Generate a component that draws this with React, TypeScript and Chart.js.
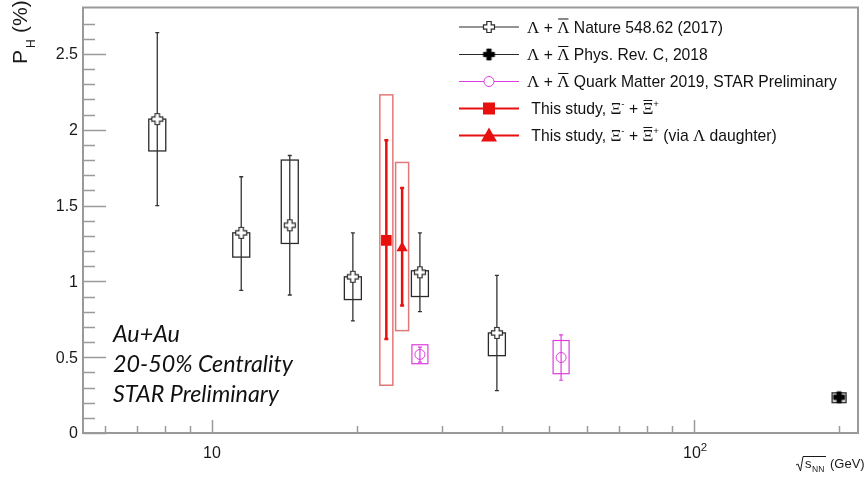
import React, { useEffect, useRef } from "react";
import { Chart, registerables } from "chart.js";

Chart.register(...registerables);

// ---------------- data ----------------
const natureEnergy = [7.7, 11.5, 14.5, 19.6, 27, 39];
const natureValue = [2.07, 1.32, 1.37, 1.03, 1.06, 0.66];
const natureStatLow = [1.5, 0.94, 0.91, 0.74, 0.8, 0.28];
const natureStatHigh = [2.64, 1.69, 1.83, 1.32, 1.32, 1.04];
const natureSysLow = [1.86, 1.16, 1.25, 0.88, 0.9, 0.51];
const natureSysHigh = [2.07, 1.32, 1.8, 1.03, 1.07, 0.66];

const prcEnergy = [200];
const prcValue = [0.236];
const prcStatLow = [0.22];
const prcStatHigh = [0.25];
const prcSysLow = [0.2];
const prcSysHigh = [0.265];

const qmEnergy = [27, 53];
const qmValue = [0.518, 0.498];
const qmStatLow = [0.468, 0.348];
const qmStatHigh = [0.566, 0.647];
const qmSysLow = [0.457, 0.391];
const qmSysHigh = [0.582, 0.61];

const xiEnergy = [23];
const xiValue = [1.27];
const xiStatLow = [0.62];
const xiStatHigh = [1.93];
const xiSysLow = [0.315];
const xiSysHigh = [2.23];

const xiLambdaEnergy = [24.8];
const xiLambdaValue = [1.22];
const xiLambdaStatLow = [0.84];
const xiLambdaStatHigh = [1.615];
const xiLambdaSysLow = [0.675];
const xiLambdaSysHigh = [1.784];

const legendLabels = [
  "Λ + #bar{Λ} Nature 548.62 (2017)",
  "Λ + #bar{Λ} Phys. Rev. C, 2018",
  "Λ + #bar{Λ} Quark Matter 2019, STAR Preliminary",
  " This study, Ξ^{-} + #bar{Ξ}^{+}",
  " This study, Ξ^{-} + #bar{Ξ}^{+} (via Λ daughter)",
];

const annotationLines = ["Au+Au", "20-50% Centrality", "STAR Preliminary"];

const yMajorTicks = [0, 0.5, 1, 1.5, 2, 2.5];
const yTickLabels = ["0", "0.5", "1", "1.5", "2", "2.5"];
const xMajorTicks = [10, 100];
const xTickLabels = ["10", "10^{2}"];
const xMinorTicks = [6, 7, 8, 9, 20, 30, 40, 50, 60, 70, 80, 90, 200];

const xMin = 5.4;
const xMax = 218.9;
const yMin = 0;
const yMax = 2.806;

// ---------------- styles ----------------
const BLACK = "#2a2a2a";
const MAGENTA = "#dd3ddd";
const RED = "#e80f0f";
const RED_BOX = "#e27878";
const FRAME = "#9a9a9a";
const SANS = "'Liberation Sans', Arial, Helvetica, sans-serif";
const SERIF = "'Liberation Serif', 'Times New Roman', serif";

function makeCross(size: number, fill: string, stroke: string, lw: number) {
  const c = document.createElement("canvas");
  const s = Math.ceil(size + 2 * lw + 2);
  c.width = s;
  c.height = s;
  const ctx = c.getContext("2d")!;
  const cx = s / 2;
  const cy = s / 2;
  const h = size / 2;
  const a = size / 5;
  ctx.beginPath();
  ctx.moveTo(cx - a, cy - h);
  ctx.lineTo(cx + a, cy - h);
  ctx.lineTo(cx + a, cy - a);
  ctx.lineTo(cx + h, cy - a);
  ctx.lineTo(cx + h, cy + a);
  ctx.lineTo(cx + a, cy + a);
  ctx.lineTo(cx + a, cy + h);
  ctx.lineTo(cx - a, cy + h);
  ctx.lineTo(cx - a, cy + a);
  ctx.lineTo(cx - h, cy + a);
  ctx.lineTo(cx - h, cy - a);
  ctx.lineTo(cx - a, cy - a);
  ctx.closePath();
  ctx.fillStyle = fill;
  ctx.fill();
  ctx.strokeStyle = stroke;
  ctx.lineWidth = lw;
  ctx.stroke();
  return c;
}

// --------- mini TLatex-like rich text ---------
type Seg = { text: string; bar: boolean; script: number };
function parseRich(s: string): Seg[] {
  const out: Seg[] = [];
  let i = 0;
  let buf = "";
  const flush = () => {
    if (buf) out.push({ text: buf, bar: false, script: 0 });
    buf = "";
  };
  const readGroup = (start: number) => {
    let depth = 1;
    let j = start;
    while (j < s.length && depth > 0) {
      if (s[j] === "{") depth++;
      else if (s[j] === "}") depth--;
      j++;
    }
    return { content: s.slice(start, j - 1), end: j };
  };
  while (i < s.length) {
    if (s.startsWith("#bar{", i)) {
      flush();
      const g = readGroup(i + 5);
      out.push({ text: g.content, bar: true, script: 0 });
      i = g.end;
    } else if (s.startsWith("^{", i) || s.startsWith("_{", i)) {
      flush();
      const g = readGroup(i + 2);
      out.push({ text: g.content, bar: false, script: s[i] === "^" ? 1 : -1 });
      i = g.end;
    } else {
      buf += s[i];
      i++;
    }
  }
  flush();
  return out;
}

const isGreek = (ch: string) => /[\u0370-\u03FF]/.test(ch);

function drawRich(
  ctx: CanvasRenderingContext2D,
  str: string,
  x: number,
  y: number,
  size: number,
  scriptScale = 0.62
) {
  const segs = parseRich(str);
  let cx = x;
  for (const seg of segs) {
    const fs = seg.script !== 0 ? size * scriptScale : size;
    const by = seg.script === 1 ? y - size * 0.42 : seg.script === -1 ? y + size * 0.25 : y;
    const start = cx;
    let run = "";
    let runGreek = false;
    const drawRun = () => {
      if (!run) return;
      ctx.font = runGreek ? `${fs * 1.08}px ${SERIF}` : `${fs}px ${SANS}`;
      ctx.fillText(run, cx, by);
      cx += ctx.measureText(run).width;
      run = "";
    };
    for (const ch of seg.text) {
      const g = isGreek(ch);
      if (run && g !== runGreek) drawRun();
      runGreek = g;
      run += ch;
    }
    drawRun();
    if (seg.bar) {
      ctx.save();
      ctx.lineWidth = 1;
      ctx.strokeStyle = ctx.fillStyle as string;
      ctx.beginPath();
      ctx.moveTo(start + 1, by - size * 0.86);
      ctx.lineTo(cx - 1, by - size * 0.86);
      ctx.stroke();
      ctx.restore();
    }
  }
  return cx;
}

// --------------- plugin ---------------
const errorPlugin = {
  id: "errorsAndBoxes",
  beforeDatasetsDraw(chart: any) {
    const { ctx, chartArea } = chart;
    const xs = chart.scales.x;
    const ys = chart.scales.y;
    ctx.save();
    ctx.beginPath();
    ctx.rect(chartArea.left, chartArea.top, chartArea.right - chartArea.left, chartArea.bottom - chartArea.top);
    ctx.clip();
    chart.data.datasets.forEach((ds: any) => {
      ds.data.forEach((p: any, i: number) => {
        const px = xs.getPixelForValue(p.x);
        const bTop = ys.getPixelForValue(ds.sysHigh[i]);
        const bBot = ys.getPixelForValue(ds.sysLow[i]);
        ctx.lineWidth = ds.boxLineWidth;
        ctx.strokeStyle = ds.boxColor;
        if (ds.boxFill) {
          ctx.fillStyle = ds.boxFill;
          ctx.fillRect(px - ds.boxWidth / 2, bTop, ds.boxWidth, bBot - bTop);
        }
        ctx.strokeRect(px - ds.boxWidth / 2, bTop, ds.boxWidth, bBot - bTop);
        const eTop = ys.getPixelForValue(ds.statHigh[i]);
        const eBot = ys.getPixelForValue(ds.statLow[i]);
        ctx.lineWidth = ds.errLineWidth;
        ctx.strokeStyle = ds.errColor;
        ctx.beginPath();
        ctx.moveTo(px, eTop);
        ctx.lineTo(px, eBot);
        ctx.moveTo(px - 2, eTop);
        ctx.lineTo(px + 2, eTop);
        ctx.moveTo(px - 2, eBot);
        ctx.lineTo(px + 2, eBot);
        ctx.stroke();
      });
    });
    ctx.restore();
  },
  afterDraw(chart: any) {
    const { ctx, chartArea } = chart;
    const xs = chart.scales.x;
    const ys = chart.scales.y;
    const L = chartArea.left;
    const R = chartArea.right;
    const T = chartArea.top;
    const B = chartArea.bottom;
    ctx.save();
    ctx.strokeStyle = FRAME;
    ctx.lineWidth = 1.5;
    ctx.beginPath();
    for (let k = 1; k <= 27; k++) {
      if (k % 5 === 0) continue;
      const py = Math.round(ys.getPixelForValue(k / 10)) + 0.5;
      ctx.moveTo(L, py);
      ctx.lineTo(L + 12, py);
    }
    yMajorTicks.forEach((v) => {
      const py = Math.round(ys.getPixelForValue(v)) + 0.5;
      ctx.moveTo(L, py);
      ctx.lineTo(L + 23, py);
    });
    xMinorTicks.forEach((v) => {
      const px = Math.round(xs.getPixelForValue(v)) + 0.5;
      ctx.moveTo(px, B);
      ctx.lineTo(px, B - 7);
    });
    xMajorTicks.forEach((v) => {
      const px = Math.round(xs.getPixelForValue(v)) + 0.5;
      ctx.moveTo(px, B);
      ctx.lineTo(px, B - 13);
    });
    ctx.stroke();
    ctx.lineWidth = 2;
    ctx.strokeRect(L, T, R - L, B - T);

    // tick labels
    ctx.fillStyle = "#1a1a1a";
    ctx.font = `16px ${SANS}`;
    ctx.textAlign = "right";
    ctx.textBaseline = "middle";
    yMajorTicks.forEach((v, i) => {
      ctx.fillText(yTickLabels[i], L - 5, ys.getPixelForValue(v) + 1);
    });
    ctx.textAlign = "left";
    ctx.textBaseline = "alphabetic";
    xMajorTicks.forEach((v, i) => {
      const px = xs.getPixelForValue(v);
      ctx.font = `16px ${SANS}`;
      const w10 = ctx.measureText("10").width;
      drawRich(ctx, xTickLabels[i], px - (i === 0 ? w10 / 2 : 11), 458, 16, 0.72);
    });

    // y title
    ctx.save();
    ctx.translate(27, 64);
    ctx.rotate(-Math.PI / 2);
    ctx.fillStyle = "#1a1a1a";
    ctx.font = `21px ${SANS}`;
    ctx.fillText("P", 0, 0);
    ctx.font = `12px ${SANS}`;
    ctx.fillText("H", 16, 8);
    ctx.font = `21px ${SANS}`;
    ctx.fillText("(%)", 31, 0);
    ctx.restore();

    // x title
    ctx.fillStyle = "#1a1a1a";
    ctx.strokeStyle = "#1a1a1a";
    ctx.lineWidth = 1;
    ctx.beginPath();
    ctx.moveTo(796, 465);
    ctx.lineTo(798, 464);
    ctx.lineTo(800.5, 471);
    ctx.lineTo(803, 456.5);
    ctx.lineTo(826, 456.5);
    ctx.stroke();
    ctx.font = `13px ${SANS}`;
    ctx.fillText("s", 805, 468);
    ctx.font = `8.5px ${SANS}`;
    ctx.fillText("NN", 812, 472);
    ctx.font = `13px ${SANS}`;
    ctx.fillText("(GeV)", 830, 468);

    // legend
    const rows = [27, 54.5, 81.5, 108.5, 135.5];
    const lx0 = 459;
    const lx1 = 519;
    const mx = 489;
    const styles = chart.data.datasets;
    rows.forEach((ry, i) => {
      const ds = styles[i];
      ctx.strokeStyle = ds.legendLineColor;
      ctx.lineWidth = ds.legendLineWidth;
      ctx.beginPath();
      ctx.moveTo(lx0, ry);
      ctx.lineTo(lx1, ry);
      ctx.stroke();
      const ps = ds.pointStyle;
      if (ps instanceof HTMLCanvasElement) {
        ctx.drawImage(ps, mx - ps.width / 2, ry - ps.height / 2);
      } else if (ps === "circle") {
        ctx.fillStyle = "#fff";
        ctx.strokeStyle = ds.pointBorderColor;
        ctx.lineWidth = 1;
        ctx.beginPath();
        ctx.arc(mx, ry, 5, 0, Math.PI * 2);
        ctx.fill();
        ctx.stroke();
      } else if (ps === "rect") {
        ctx.fillStyle = RED;
        ctx.fillRect(mx - 6, ry - 6, 12, 12);
      } else if (ps === "triangle") {
        ctx.fillStyle = RED;
        ctx.beginPath();
        ctx.moveTo(mx, ry - 8);
        ctx.lineTo(mx + 8, ry + 6);
        ctx.lineTo(mx - 8, ry + 6);
        ctx.closePath();
        ctx.fill();
      }
      ctx.fillStyle = "#111";
      drawRich(ctx, legendLabels[i], 527, ry + 5.5, 15.7);
    });

    // annotation
    ctx.fillStyle = "#111";
    const fam = "Lato, 'Open Sans', sans-serif";
    ctx.font = `italic 100px ${fam}`;
    const wRef = ctx.measureText(annotationLines[1]).width;
    const fsz = (100 * 180) / wRef;
    ctx.font = `italic ${fsz}px ${fam}`;
    annotationLines.forEach((t, i) => {
      ctx.fillText(t, 113, 342 + i * 30);
    });
    ctx.restore();
  },
};

function makeDataset(
  label: string,
  xs: number[],
  ys: number[],
  statLow: number[],
  statHigh: number[],
  sysLow: number[],
  sysHigh: number[],
  extra: any
) {
  return {
    label,
    data: xs.map((x, i) => ({ x, y: ys[i] })),
    statLow,
    statHigh,
    sysLow,
    sysHigh,
    showLine: false,
    ...extra,
  };
}

export default function App() {
  const ref = useRef<HTMLCanvasElement>(null);
  useEffect(() => {
    const openCross = makeCross(11, "#ffffff", BLACK, 1.2);
    const fullCross = makeCross(11, "#000000", "#000000", 0.8);
    const datasets = [
      makeDataset(legendLabels[0], natureEnergy, natureValue, natureStatLow, natureStatHigh, natureSysLow, natureSysHigh, {
        pointStyle: openCross,
        pointBorderColor: BLACK,
        boxColor: BLACK,
        boxWidth: 17,
        boxLineWidth: 1.3,
        errColor: "#333",
        errLineWidth: 1.3,
        legendLineColor: BLACK,
        legendLineWidth: 1.2,
      }),
      makeDataset(legendLabels[1], prcEnergy, prcValue, prcStatLow, prcStatHigh, prcSysLow, prcSysHigh, {
        pointStyle: fullCross,
        pointBorderColor: "#000",
        boxColor: "#333",
        boxFill: "rgba(0,0,0,0.18)",
        boxWidth: 14,
        boxLineWidth: 1.3,
        errColor: "#000",
        errLineWidth: 1.3,
        legendLineColor: BLACK,
        legendLineWidth: 1.2,
      }),
      makeDataset(legendLabels[2], qmEnergy, qmValue, qmStatLow, qmStatHigh, qmSysLow, qmSysHigh, {
        pointStyle: "circle",
        pointRadius: 5,
        pointBorderWidth: 1,
        pointBorderColor: MAGENTA,
        pointBackgroundColor: "rgba(255,255,255,0)",
        boxColor: MAGENTA,
        boxWidth: 16,
        boxLineWidth: 1.2,
        errColor: MAGENTA,
        errLineWidth: 1.2,
        legendLineColor: MAGENTA,
        legendLineWidth: 1.2,
      }),
      makeDataset(legendLabels[3], xiEnergy, xiValue, xiStatLow, xiStatHigh, xiSysLow, xiSysHigh, {
        pointStyle: "rect",
        pointRadius: 7.5,
        pointBorderWidth: 0,
        pointBorderColor: RED,
        pointBackgroundColor: RED,
        boxColor: RED_BOX,
        boxWidth: 13,
        boxLineWidth: 1.5,
        errColor: RED,
        errLineWidth: 2.5,
        legendLineColor: RED,
        legendLineWidth: 2,
      }),
      makeDataset(legendLabels[4], xiLambdaEnergy, xiLambdaValue, xiLambdaStatLow, xiLambdaStatHigh, xiLambdaSysLow, xiLambdaSysHigh, {
        pointStyle: "triangle",
        pointRadius: 6.5,
        pointBorderWidth: 0,
        pointBorderColor: RED,
        pointBackgroundColor: RED,
        boxColor: RED_BOX,
        boxWidth: 13,
        boxLineWidth: 1.5,
        errColor: RED,
        errLineWidth: 2.5,
        legendLineColor: RED,
        legendLineWidth: 2,
      }),
    ];
    const chart = new Chart(ref.current!, {
      type: "scatter",
      data: { datasets: datasets as any },
      options: {
        animation: false,
        responsive: false,
        devicePixelRatio: 1,
        layout: { padding: { left: 83, right: 10, top: 5, bottom: 46 } },
        scales: {
          x: { type: "logarithmic", min: xMin, max: xMax, display: false },
          y: { type: "linear", min: yMin, max: yMax, display: false },
        },
        plugins: { legend: { display: false }, tooltip: { enabled: false } },
        events: [],
      },
      plugins: [errorPlugin],
    } as any);
    return () => chart.destroy();
  }, []);
  return (
    <div style={{ position: "fixed", left: 0, top: 0, width: 868, height: 479, background: "#fff" }}>
      <canvas ref={ref} width={868} height={479} style={{ display: "block", width: 868, height: 479 }} />
    </div>
  );
}
